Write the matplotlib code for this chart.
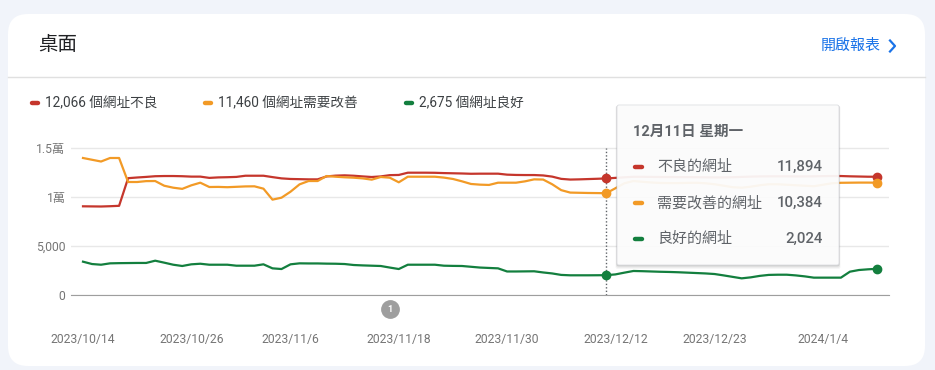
import pandas as pd
import matplotlib
matplotlib.use("Agg")
import matplotlib.pyplot as plt
from matplotlib.patches import FancyBboxPatch

plt.rcParams['font.family'] = ['Roboto', 'Noto Sans CJK TC', 'DejaVu Sans']

# daily values, 2023/10/14 .. 2024/1/10
dates = pd.date_range("2023-10-14", "2024-01-10", freq="D")

poor = [9050, 9040, 9030, 9060, 9100,
        11920, 11990, 12050, 12120, 12140,
        12140, 12120, 12080, 12080, 11950,
        12000, 12020, 12050, 12170, 12170,
        12170, 12030, 11900, 11840, 11820,
        11800, 11800, 12100, 12180, 12210,
        12170, 12100, 12040, 12100, 12230,
        12250, 12480, 12480, 12480, 12470,
        12440, 12420, 12400, 12370, 12380,
        12380, 12380, 12280, 12250, 12240,
        12240, 12200, 12080, 11850, 11780,
        11800, 11830, 11860, 11894,
        11950, 12010, 12060, 12060, 12050,
        12040, 12040, 12030, 12030, 12020,
        12010, 12000, 12000, 12020, 12050,
        12080, 12100, 12110, 12110, 12110,
        12100, 12100, 12110, 12130, 12140,
        12140, 12110, 12090, 12070, 12066]

needs_work = [13980, 13800, 13620, 13980, 13980,
              11530, 11530, 11620, 11630, 11150,
              10950, 10830, 11190, 11460, 11020,
              11030, 11000, 11040, 11080, 11090,
              10850, 9730, 9930, 10540, 11290,
              11630, 11630, 12140, 12070, 12010,
              11970, 11900, 11770, 12040, 11970,
              11500, 12070, 12070, 12070, 12070,
              11980, 11840, 11600, 11330, 11260,
              11230, 11460, 11460, 11460, 11600,
              11800, 11780, 11300, 10700, 10450,
              10430, 10410, 10400, 10384,
              10890, 11400, 11630, 11550, 11480,
              11430, 11420, 11420, 11440, 11450,
              11400, 11300, 11150, 11000, 10950,
              11050, 11200, 11300, 11300, 11250,
              11200, 11150, 11100, 11250, 11400,
              11450, 11460, 11470, 11470, 11460]

good = [3400, 3160, 3090, 3230, 3250,
        3260, 3270, 3270, 3500, 3300,
        3090, 2960, 3130, 3190, 3090,
        3090, 3090, 2990, 2990, 2990,
        3130, 2720, 2650, 3130, 3230,
        3220, 3220, 3200, 3190, 3160,
        3060, 3020, 2990, 2960, 2800,
        2650, 3090, 3090, 3090, 3090,
        2990, 2970, 2960, 2880, 2800,
        2760, 2720, 2400, 2400, 2410,
        2420, 2300, 2200, 2050, 2010,
        2010, 2010, 2015, 2024,
        2100, 2280, 2450, 2430, 2400,
        2370, 2350, 2320, 2280, 2240,
        2200, 2140, 2000, 1850, 1700,
        1800, 1950, 2050, 2070, 2070,
        2000, 1900, 1770, 1770, 1770,
        1770, 2380, 2550, 2620, 2675]

legend_names = ["個網址不良", "個網址需要改善", "個網址良好"]
tooltip_names = ["不良的網址", "需要改善的網址", "良好的網址"]
colors = ["#c5362c", "#f29a26", "#137f3e"]

tick_dates = ["2023-10-14", "2023-10-26", "2023-11-06", "2023-11-18",
              "2023-11-30", "2023-12-12", "2023-12-23", "2024-01-04"]
tick_labels = ["2023/10/14", "2023/10/26", "2023/11/6", "2023/11/18",
               "2023/11/30", "2023/12/12", "2023/12/23", "2024/1/4"]
y_ticks = [0, 5000, 10000, 15000]
y_labels = ["0", "5,000", "1萬", "1.5萬"]

hover_date = pd.Timestamp("2023-12-11")
note_date = pd.Timestamp("2023-11-17")
weekdays = ["星期一", "星期二", "星期三", "星期四", "星期五", "星期六", "星期日"]

series = [poor, needs_work, good]

W, H = 935, 370
fig = plt.figure(figsize=(W / 100, H / 100), dpi=100)
fig.patch.set_facecolor("#f1f4fa")

# background layer in pixel coords
bg = fig.add_axes([0, 0, 1, 1], zorder=0)
bg.set_xlim(0, W)
bg.set_ylim(H, 0)
bg.axis("off")
bg.add_patch(FancyBboxPatch((8, 14), 917, 352, boxstyle="round,pad=0,rounding_size=20",
                            fc="white", ec="none"))
bg.plot([8, 925], [77, 77], color="#e0e0e0", lw=1)
bg.text(38, 45, "桌面", fontsize=14, color="#202124", va="center")
bg.text(881, 46, "開啟報表", fontsize=10.8, color="#1a73e8", va="center", ha="right")
bg.plot([890, 895, 890], [40.5, 46, 51.5], color="#1a73e8", lw=1.6)

leg_x = [30, 203, 404]
for i in range(3):
    bg.plot([leg_x[i] + 1.5, leg_x[i] + 8], [103, 103], color=colors[i], lw=3.2,
            solid_capstyle="round")
    bg.text(leg_x[i] + 15, 103, f"{series[i][-1]:,} {legend_names[i]}", fontsize=9.8,
            color="#3c4043", va="center")

# main chart
ymax = 15200
ax_h = ymax * 49 / 5000
ax = fig.add_axes([71 / W, (H - 295) / H, 818 / W, ax_h / H], zorder=1)
ax.patch.set_alpha(0)
for i in range(3):
    ax.plot(dates, series[i], color=colors[i], lw=1.6, clip_on=False, zorder=3 + i)

x0 = dates[0] - pd.Timedelta(days=1.33)
x1 = dates[-1] + pd.Timedelta(days=1.33)
ax.set_xlim(x0, x1)
ax.set_ylim(0, ymax)
ax.set_yticks(y_ticks)
ax.set_yticklabels(y_labels)
ax.set_xticks(pd.to_datetime(tick_dates))
ax.set_xticklabels(tick_labels)
ax.tick_params(axis="both", length=0, colors="#757575", labelsize=8.7)
ax.tick_params(axis="y", pad=4)
ax.tick_params(axis="x", pad=27)
ax.grid(axis="y", color="#e8e8e8", lw=1)
ax.set_axisbelow(True)
for s in ["top", "right", "left"]:
    ax.spines[s].set_visible(False)
ax.spines["bottom"].set_color("#9e9e9e")
ax.spines["bottom"].set_zorder(2)

hi = list(dates).index(hover_date)
ax.plot([hover_date, hover_date], [0, 15000], color="#5f6368", lw=1, ls=(0, (1, 1.5)), zorder=2)
for i in range(3):
    ax.plot([hover_date], [series[i][hi]], "o", ms=6, color=colors[i], zorder=8)
    ax.plot([dates[-1]], [series[i][-1]], "o", ms=6, color=colors[i], zorder=8, clip_on=False)

# annotation marker under the axis
ax.plot([note_date], [-1430], "o", ms=12.5, color="#9e9e9e", clip_on=False, zorder=8)
ax.text(note_date, -1430, "1", color="white", fontsize=6.5, fontweight="bold",
        ha="center", va="center", zorder=9, clip_on=False)

# tooltip overlay
ov = fig.add_axes([0, 0, 1, 1], zorder=5)
ov.set_xlim(0, W)
ov.set_ylim(H, 0)
ov.axis("off")
for k, a in [(3, 0.04), (2, 0.06), (1, 0.1)]:
    ov.add_patch(FancyBboxPatch((617 - k * 0.5, 105 + k * 0.3), 222 + k, 160 + k,
                                boxstyle="round,pad=0,rounding_size=2",
                                fc="#000000", ec="none", alpha=a))
ov.add_patch(FancyBboxPatch((617, 105), 222, 160, boxstyle="round,pad=0,rounding_size=2",
                            fc="white", ec="#dadce0", lw=0.6, alpha=0.93))
ov.text(633, 132, f"{hover_date.month}月{hover_date.day}日 {weekdays[hover_date.weekday()]}",
        fontsize=10.5, fontweight="bold", color="#5f6368", va="center")
row_y = [167, 203, 239]
for i in range(3):
    ov.plot([634.5, 641.5], [row_y[i], row_y[i]], color=colors[i], lw=3.2, solid_capstyle="round")
    ov.text(657, row_y[i], tooltip_names[i], fontsize=10.8, color="#5f6368", va="center")
    ov.text(823, row_y[i], f"{series[i][hi]:,}", fontsize=10.8, fontweight="medium",
            color="#5f6368", va="center", ha="right")

fig.savefig("out.png", dpi=100, facecolor=fig.get_facecolor())
